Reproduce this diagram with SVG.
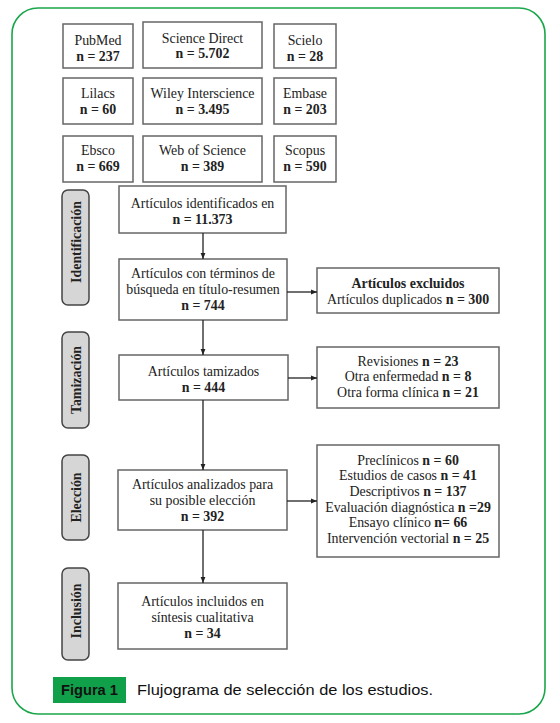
<svg xmlns="http://www.w3.org/2000/svg" width="560" height="723" viewBox="0 0 560 723">
<style>
.box{fill:#fff;stroke:#666;stroke-width:1.5}
.lab{fill:#d6d6d6;stroke:#444;stroke-width:1.5}
.t text{font-size:13.9px;fill:#222;text-anchor:middle}
.b{font-weight:bold}
.side{font-weight:bold;font-size:14.5px}
.cap{font-size:15.5px;fill:#111}
.con{stroke:#222;stroke-width:1.3;fill:none;marker-end:url(#ah)}
</style>
<defs>
<marker id="ah" viewBox="0 0 10 10" refX="10" refY="5" markerWidth="6" markerHeight="6" markerUnits="userSpaceOnUse" orient="auto">
<path d="M0,1 L10,5 L0,9 z" fill="#222"/>
</marker>
</defs>
<rect x="12" y="8" width="533" height="706" rx="26" fill="none" stroke="#1aa64a" stroke-width="1.6"/>

<g class="t" font-family="'Liberation Serif', 'Times New Roman', serif">
<g id="pubmed"><rect class="box" x="63" y="24" width="70" height="44"/><text x="98" y="45">PubMed</text><text x="98" y="61" class="b">n = 237</text></g>
<g id="sciencedirect"><rect class="box" x="143" y="22" width="119" height="46"/><text x="202.5" y="43">Science Direct</text><text x="202.5" y="58" class="b">n = 5.702</text></g>
<g id="scielo"><rect class="box" x="274" y="24" width="62" height="44"/><text x="305" y="45">Scielo</text><text x="305" y="61" class="b">n = 28</text></g>

<g id="lilacs"><rect class="box" x="63" y="78" width="70" height="46"/><text x="98" y="98">Lilacs</text><text x="98" y="114" class="b">n = 60</text></g>
<g id="wiley"><rect class="box" x="143" y="78" width="119" height="46"/><text x="202.5" y="98">Wiley Interscience</text><text x="202.5" y="114" class="b">n = 3.495</text></g>
<g id="embase"><rect class="box" x="274" y="78" width="62" height="46"/><text x="305" y="98">Embase</text><text x="305" y="114" class="b">n = 203</text></g>

<g id="ebsco"><rect class="box" x="63" y="136" width="70" height="46"/><text x="98" y="155">Ebsco</text><text x="98" y="171" class="b">n = 669</text></g>
<g id="wos"><rect class="box" x="143" y="136" width="119" height="46"/><text x="202.5" y="155">Web of Science</text><text x="202.5" y="171" class="b">n = 389</text></g>
<g id="scopus"><rect class="box" x="274" y="136" width="62" height="46"/><text x="305" y="155">Scopus</text><text x="305" y="171" class="b">n = 590</text></g>

<g id="lab-identificacion"><rect class="lab" x="62" y="190" width="27" height="115" rx="6"/><text class="side" transform="translate(80.5,242) rotate(-90)">Identificación</text></g>
<g id="lab-tamizacion"><rect class="lab" x="62" y="332" width="27" height="96" rx="6"/><text class="side" transform="translate(80.5,380) rotate(-90)">Tamización</text></g>
<g id="lab-eleccion"><rect class="lab" x="62" y="455" width="27" height="85" rx="6"/><text class="side" transform="translate(80.5,497.5) rotate(-90)">Elección</text></g>
<g id="lab-inclusion"><rect class="lab" x="62" y="568" width="27" height="92" rx="6"/><text class="side" transform="translate(80.5,611) rotate(-90)">Inclusión</text></g>

<g id="identificados"><rect class="box" x="119" y="186" width="167" height="47"/><text x="202.5" y="208">Artículos identificados en</text><text x="202.5" y="224" class="b">n = 11.373</text></g>
<g id="terminos"><rect class="box" x="119" y="259" width="168" height="61"/><text x="203" y="278">Artículos con términos de</text><text x="203" y="294">búsqueda en título-resumen</text><text x="203" y="310" class="b">n = 744</text></g>
<g id="excluidos"><rect class="box" x="317" y="268" width="182" height="45"/><text x="408" y="288" class="b">Artículos excluidos</text><text x="408" y="304">Artículos duplicados <tspan class="b">n = 300</tspan></text></g>
<g id="tamizados"><rect class="box" x="119" y="355" width="169" height="45"/><text x="203.5" y="376">Artículos tamizados</text><text x="203.5" y="392" class="b">n = 444</text></g>
<g id="revisiones"><rect class="box" x="317" y="347" width="182" height="61"/><text x="408" y="366">Revisiones <tspan class="b">n = 23</tspan></text><text x="408" y="381">Otra enfermedad <tspan class="b">n = 8</tspan></text><text x="408" y="397">Otra forma clínica <tspan class="b">n = 21</tspan></text></g>
<g id="analizados"><rect class="box" x="118" y="470" width="169" height="60"/><text x="202.5" y="489">Artículos analizados para</text><text x="202.5" y="505">su posible elección</text><text x="202.5" y="521" class="b">n = 392</text></g>
<g id="preclinicos"><rect class="box" x="317" y="445" width="182" height="112"/><text x="408" y="465">Preclínicos <tspan class="b">n = 60</tspan></text><text x="408" y="480">Estudios de casos <tspan class="b">n = 41</tspan></text><text x="408" y="496">Descriptivos <tspan class="b">n = 137</tspan></text><text x="408" y="512">Evaluación diagnóstica <tspan class="b">n =29</tspan></text><text x="408" y="527">Ensayo clínico <tspan class="b">n= 66</tspan></text><text x="408" y="543">Intervención vectorial <tspan class="b">n = 25</tspan></text></g>
<g id="incluidos"><rect class="box" x="118" y="583" width="169" height="66"/><text x="202.5" y="606">Artículos incluidos en</text><text x="202.5" y="622">síntesis cualitativa</text><text x="202.5" y="638" class="b">n = 34</text></g>
</g>

<g id="connectors">
<path class="con" d="M203,233 V259"/>
<path class="con" d="M287,292 H317"/>
<path class="con" d="M203,320 V355"/>
<path class="con" d="M288,378 H317"/>
<path class="con" d="M203,400 V470"/>
<path class="con" d="M287,501 H317"/>
<path class="con" d="M203,530 V583"/>
</g>

<g id="caption" font-family="'Liberation Sans', Arial, sans-serif">
<rect x="53" y="677" width="73" height="26" fill="#10a04a"/>
<text class="cap" x="61" y="695" font-weight="bold" textLength="57" lengthAdjust="spacingAndGlyphs">Figura 1</text>
<text class="cap" x="137" y="695" textLength="296" lengthAdjust="spacingAndGlyphs">Flujograma de selección de los estudios.</text>
</g>
</svg>
